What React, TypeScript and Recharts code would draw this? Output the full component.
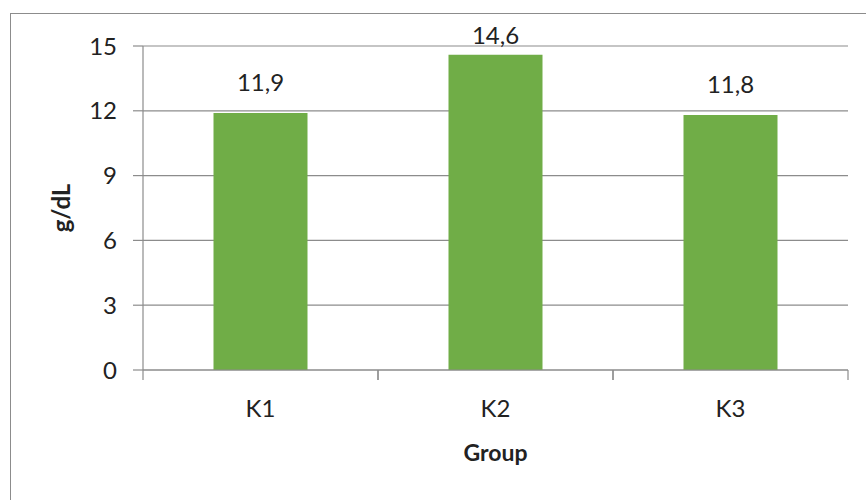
import React from 'react';
import {
  BarChart,
  Bar,
  XAxis,
  YAxis,
  CartesianGrid,
  LabelList,
  Label,
} from 'recharts';

const groups = ['K1', 'K2', 'K3'];
const values = [11.9, 14.6, 11.8];
const yTicks = [0, 3, 6, 9, 12, 15];

const data = groups.map((g, i) => ({ group: g, value: values[i] }));

const FONT = 'Lato, "Open Sans", sans-serif';
const GRAY = '#8c8c8c';
const TEXT = '#222';
const TICK_GAP = 30;

// Excel-style value label: sits above the bar, but never runs past the top of the plot
const ValueLabel = (props: any) => {
  const { x, y, width, value } = props;
  const baseline = Math.max(y - 22, 44);
  return (
    <text
      x={x + width / 2}
      y={baseline}
      textAnchor="middle"
      fill={TEXT}
      fontSize={24}
      fontFamily={FONT}
    >
      {String(value).replace('.', ',')}
    </text>
  );
};

// category label plus tick marks at the band edges (Excel puts them between categories)
const GroupTick = (props: any) => {
  const { x, y, payload } = props;
  const half = payload.offset || 0;
  const axisY = y - TICK_GAP;
  return (
    <g>
      <line x1={x - half} x2={x - half} y1={axisY} y2={axisY + 10} stroke={GRAY} strokeWidth={1.2} />
      <line x1={x + half} x2={x + half} y1={axisY} y2={axisY + 10} stroke={GRAY} strokeWidth={1.2} />
      <text x={x} y={y} dy="0.71em" textAnchor="middle" fill={TEXT} fontSize={24} fontFamily={FONT}>
        {payload.value}
      </text>
    </g>
  );
};

const YTitle = (props: any) => {
  const { viewBox } = props;
  const cx = 60;
  const cy = viewBox.y + viewBox.height / 2;
  return (
    <text
      x={cx}
      y={cy}
      transform={`rotate(-90, ${cx}, ${cy})`}
      textAnchor="middle"
      dominantBaseline="central"
      fill={TEXT}
      fontSize={24}
      fontWeight={700}
      fontFamily={FONT}
    >
      g/dL
    </text>
  );
};

export default function App() {
  return (
    <div
      style={{
        position: 'absolute',
        top: 0,
        left: 0,
        width: 866,
        height: 500,
        overflow: 'hidden',
        background: '#fff',
      }}
    >
      <div
        style={{
          position: 'absolute',
          left: 10,
          top: 13,
          width: 880,
          height: 520,
          border: `1.5px solid ${GRAY}`,
          boxSizing: 'border-box',
        }}
      />
      <div style={{ position: 'absolute', top: 0, left: 0 }}>
        <BarChart
          width={866}
          height={500}
          data={data}
          margin={{ top: 46, right: 18, left: 0, bottom: 0 }}
          barCategoryGap="30%"
        >
          <CartesianGrid vertical={false} stroke={GRAY} strokeWidth={1.2} />
          <XAxis
            dataKey="group"
            tickLine={false}
            tickSize={0}
            tickMargin={TICK_GAP}
            axisLine={{ stroke: GRAY, strokeWidth: 1.2 }}
            height={130}
            tick={<GroupTick />}
            interval={0}
          >
            <Label
              value="Group"
              position="insideTop"
              offset={75}
              fill={TEXT}
              fontSize={23}
              fontWeight={700}
              fontFamily={FONT}
            />
          </XAxis>
          <YAxis
            domain={[0, 15]}
            ticks={yTicks}
            width={143}
            tickSize={10}
            tickMargin={16}
            axisLine={{ stroke: GRAY, strokeWidth: 1.2 }}
            tickLine={{ stroke: GRAY, strokeWidth: 1.2 }}
            tick={{ fill: TEXT, fontSize: 24, fontFamily: FONT }}
            label={<YTitle />}
          />
          <Bar dataKey="value" fill="#70AD47" isAnimationActive={false}>
            <LabelList dataKey="value" content={<ValueLabel />} />
          </Bar>
        </BarChart>
      </div>
    </div>
  );
}
